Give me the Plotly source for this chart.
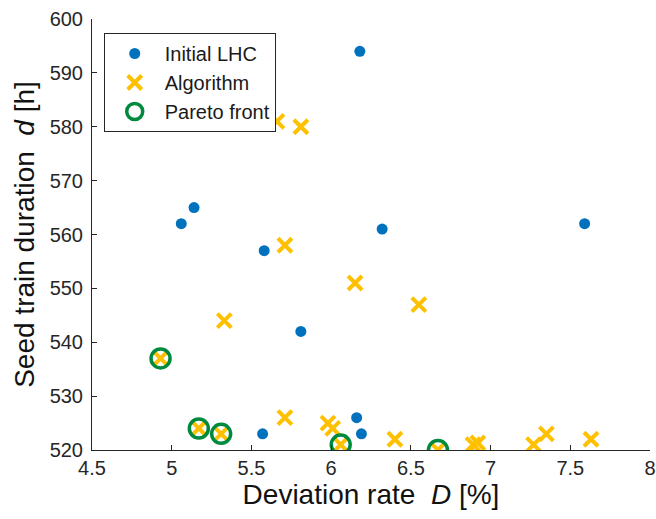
import plotly.graph_objects as go

# Initial Latin-hypercube samples
lhc_D = [6.18, 5.14, 5.06, 6.32, 5.58, 5.81, 5.57, 6.16, 6.19, 7.59]
lhc_d = [594, 565, 562, 561, 557, 542, 523, 526, 523, 562]

# Points proposed by the optimisation algorithm
alg_D = [5.66, 5.81, 5.71, 6.15, 6.55, 5.33, 4.93, 5.17, 5.31, 5.71,
         5.98, 6.01, 6.06, 6.40, 6.67, 6.89, 6.92, 7.27, 7.35, 7.63]
alg_d = [581, 580, 558, 551, 547, 544, 537, 524, 523, 526,
         525, 524, 521, 522, 520, 521, 521.3, 521, 523, 522]

# Non-dominated points
pareto_D = [4.93, 5.17, 5.31, 6.06, 6.67]
pareto_d = [537, 524, 523, 521, 520]

x_ticks = [4.5, 5, 5.5, 6, 6.5, 7, 7.5, 8]
y_ticks = [520, 530, 540, 550, 560, 570, 580, 590, 600]

BLUE = "#0072BD"
YELLOW = "#FFC000"
GREEN = "#008A3E"
AXIS = "#262626"
FONT = "Liberation Sans, Arial, sans-serif"

fig = go.Figure()
fig.add_trace(go.Scatter(
    x=lhc_D, y=lhc_d, mode="markers", name="Initial LHC",
    marker=dict(symbol="circle", size=11, color=BLUE, line=dict(width=0)),
))
fig.add_trace(go.Scatter(
    x=alg_D, y=alg_d, mode="markers", name="Algorithm",
    marker=dict(symbol="x-thin", size=14, color=YELLOW,
                line=dict(width=4, color=YELLOW)),
))
fig.add_trace(go.Scatter(
    x=pareto_D, y=pareto_d, mode="markers", name="Pareto front",
    marker=dict(symbol="circle-open", size=19, color=GREEN,
                line=dict(width=3.5, color=GREEN)),
))

fig.update_layout(
    width=656, height=519,
    margin=dict(l=92, r=6, t=19, b=69),
    paper_bgcolor="white", plot_bgcolor="white",
    font=dict(family=FONT, color=AXIS, size=20),
    showlegend=True,
    legend=dict(
        x=0.021, y=0.9675, xanchor="left", yanchor="top",
        bgcolor="white", bordercolor=AXIS, borderwidth=1,
        font=dict(size=20, color="#1a1a1a"),
        itemwidth=50, tracegroupgap=0,
    ),
    xaxis=dict(
        range=[4.5, 8], tickvals=x_ticks,
        ticktext=[f"{v:g}" for v in x_ticks],
        showgrid=False, zeroline=False, automargin=False,
        showline=True, linecolor=AXIS, linewidth=1,
        ticks="inside", ticklen=5, tickcolor=AXIS,
        tickfont=dict(size=20, color=AXIS),
        ticklabeloverflow="allow",
        title=dict(text="Deviation rate  <i>D</i> [%]",
                   font=dict(size=28, color="#111111"), standoff=4),
    ),
    yaxis=dict(
        range=[520, 600], tickvals=y_ticks,
        showgrid=False, zeroline=False, automargin=False,
        showline=True, linecolor=AXIS, linewidth=1,
        ticks="inside", ticklen=5, tickcolor=AXIS,
        tickfont=dict(size=20, color=AXIS),
        ticklabelstandoff=4,
        title=dict(text="Seed train duration  <i>d</i> [h]",
                   font=dict(size=28, color="#111111"), standoff=6),
    ),
)

fig.write_html("out.html")
